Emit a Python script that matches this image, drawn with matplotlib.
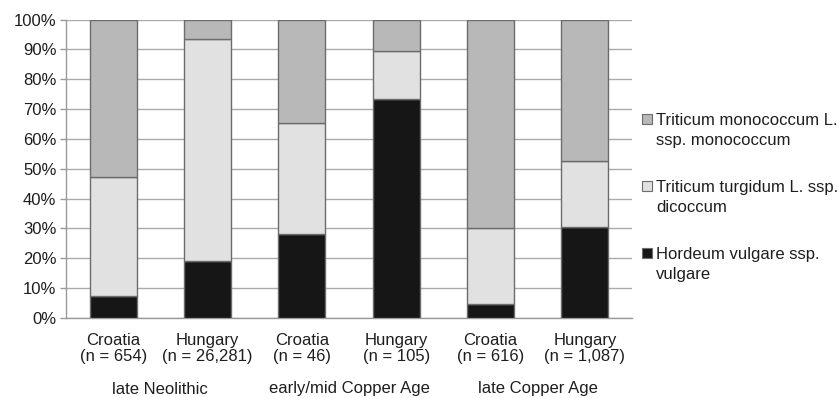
import matplotlib
matplotlib.use("Agg")
import matplotlib.pyplot as plt
import numpy as np
from matplotlib.patches import Rectangle
from matplotlib.transforms import blended_transform_factory

plt.rcParams['font.family'] = ['Liberation Sans', 'DejaVu Sans']

countries = ["Croatia", "Hungary", "Croatia", "Hungary", "Croatia", "Hungary"]
sample_sizes = ["654", "26,281", "46", "105", "616", "1,087"]
periods = ["late Neolithic", "early/mid Copper Age", "late Copper Age"]

hordeum = [7.4, 19.1, 28.2, 73.4, 4.8, 30.6]
dicoccum = [39.7, 74.5, 37.0, 16.0, 25.2, 22.0]
monococcum = [52.9, 6.4, 34.8, 10.6, 70.0, 47.4]

series_names = ["Hordeum vulgare ssp.\nvulgare",
                "Triticum turgidum L. ssp.\ndicoccum",
                "Triticum monococcum L.\nssp. monococcum"]
colors = ["#161616", "#e1e1e1", "#b8b8b8"]
edge = "#6c6c6c"
FS = 12
TC = "#1e1e1e"

W, H = 839, 398
fig = plt.figure(figsize=(W/100, H/100), dpi=100)
ax = fig.add_axes([66/W, 1-318/H, (632-66)/W, (318-19.5)/H])

x = np.arange(len(countries))
bottom = np.zeros(len(countries))
for vals, c in zip([hordeum, dicoccum, monococcum], colors):
    ax.bar(x, vals, bottom=bottom, width=0.5, color=c, edgecolor=edge, linewidth=1.0, zorder=3)
    bottom += np.array(vals)

ax.set_xlim(-0.5, len(countries)-0.5)
ax.set_ylim(0, 100)
ax.set_yticks(np.arange(0, 101, 10))
ax.set_yticklabels([f"{v}%" for v in range(0, 101, 10)], fontsize=FS, color=TC)
ax.yaxis.grid(True, color="#ababab", linewidth=1.0, zorder=0)
ax.set_xticks(x)
ax.set_xticklabels([f"{c}\n(n = {n})" for c, n in zip(countries, sample_sizes)],
                   fontsize=FS, color=TC, linespacing=1.1)
ax.tick_params(axis='x', length=0, pad=11)
ax.tick_params(axis='y', length=4, color="#9a9a9a", width=1.0, pad=3)
for s in ["top", "right"]:
    ax.spines[s].set_visible(False)
for s in ["left", "bottom"]:
    ax.spines[s].set_color("#9a9a9a")
    ax.spines[s].set_linewidth(1.0)

trans = blended_transform_factory(ax.transData, fig.transFigure)
for i, p in enumerate(periods):
    ax.text(2*i + 0.5, 1-389/H, p, transform=trans, ha="center", va="center",
            fontsize=FS, color=TC)

# legend (drawn manually, marker aligned with first text line like the original)
legend_order = [2, 1, 0]
for k, idx in enumerate(legend_order):
    y0 = 119 + 67*k
    fig.patches.append(Rectangle((642/W, 1-(y0+5)/H), 10/W, 10/H, transform=fig.transFigure,
                                 facecolor=colors[idx], edgecolor=edge, linewidth=0.8))
    for j, line in enumerate(series_names[idx].split("\n")):
        fig.text(656/W, 1-(y0 + 19.5*j)/H, line, ha="left", va="center_baseline",
                 fontsize=FS, color=TC)

fig.savefig("out.png", dpi=100)
